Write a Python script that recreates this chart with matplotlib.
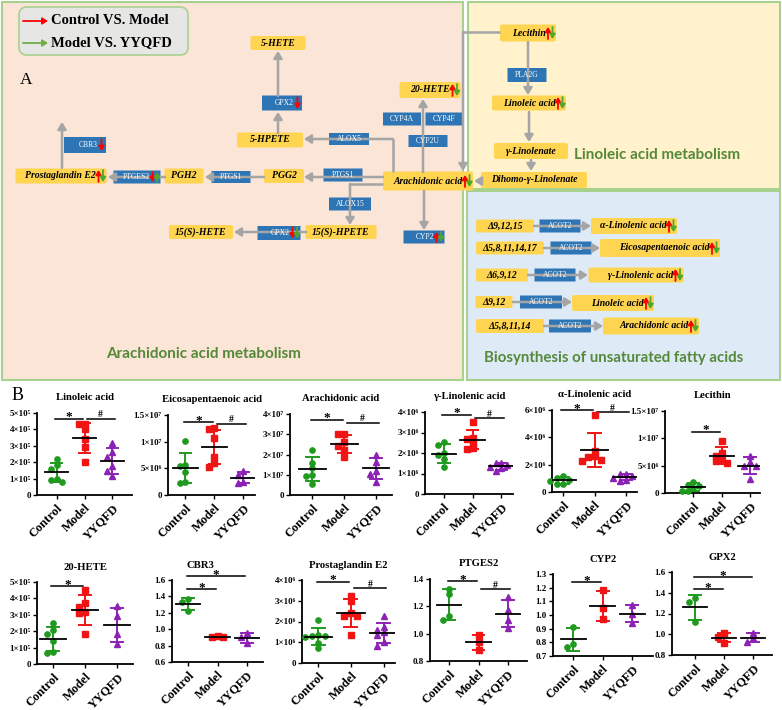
import numpy as np
import matplotlib
matplotlib.use('Agg')
import matplotlib.pyplot as plt
from matplotlib.patches import FancyBboxPatch, Rectangle

# ---------------- data ----------------
GROUPS = ['Control', 'Model', 'YYQFD']

linoleic_acid = {'Control': [0.78e5, 0.9e5, 0.95e5, 1.6e5, 1.85e5, 2.2e5],
                 'Model': [4.35e5, 4.3e5, 4.0e5, 3.4e5, 2.9e5, 2.0e5],
                 'YYQFD': [3.2e5, 2.6e5, 2.3e5, 1.75e5, 1.45e5, 1.15e5]}
eicosapentaenoic_acid = {'Control': [10.1e6, 5.7e6, 5.5e6, 4.3e6, 2.5e6, 2.3e6],
                         'Model': [12.6e6, 12.3e6, 10.6e6, 7.2e6, 6.0e6, 5.2e6],
                         'YYQFD': [4.5e6, 3.8e6, 2.5e6, 2.3e6]}
arachidonic_acid = {'Control': [2.2e7, 1.6e7, 1.35e7, 1.0e7, 0.95e7, 0.55e7],
                    'Model': [3.0e7, 3.0e7, 2.6e7, 2.4e7, 2.2e7, 1.9e7],
                    'YYQFD': [2.0e7, 1.65e7, 1.2e7, 1.05e7, 0.65e7]}
gamma_linolenic_acid = {'Control': [2.55e6, 2.4e6, 2.0e6, 1.9e6, 1.7e6, 1.3e6],
                        'Model': [3.5e6, 2.75e6, 2.7e6, 2.5e6, 2.25e6, 2.2e6],
                        'YYQFD': [1.5e6, 1.5e6, 1.4e6, 1.3e6, 1.25e6, 1.1e6]}
alpha_linolenic_acid = {'Control': [1.15e6, 1.05e6, 0.9e6, 0.8e6, 0.6e6, 0.55e6],
                        'Model': [5.6e6, 3.0e6, 2.6e6, 2.55e6, 2.35e6, 2.3e6],
                        'YYQFD': [1.3e6, 1.3e6, 1.2e6, 1.0e6, 0.9e6, 0.8e6]}
lecithin = {'Control': [2.1e6, 1.5e6, 1.2e6, 0.9e6, 0.4e6, 0.3e6],
            'Model': [9.6e6, 7.3e6, 6.8e6, 6.1e6, 5.8e6, 5.5e6],
            'YYQFD': [6.8e6, 5.6e6, 5.0e6, 4.9e6, 2.6e6]}
hete20 = {'Control': [2.5e5, 2.05e5, 1.8e5, 1.4e5, 0.75e5, 0.7e5],
          'Model': [4.5e5, 3.7e5, 3.45e5, 3.2e5, 3.1e5, 1.8e5],
          'YYQFD': [3.55e5, 2.9e5, 1.85e5, 1.2e5]}
cbr3 = {'Control': [1.37, 1.33, 1.22],
        'Model': [0.92, 0.91, 0.90],
        'YYQFD': [0.955, 0.90, 0.835]}
prostaglandin_e2 = {'Control': [2.05e6, 1.35e6, 1.3e6, 1.3e6, 1.25e6, 0.95e6, 0.7e6],
                    'Model': [3.25e6, 3.0e6, 2.4e6, 2.25e6, 2.25e6, 1.35e6],
                    'YYQFD': [2.25e6, 1.75e6, 1.6e6, 1.5e6, 1.35e6, 1.0e6, 0.8e6]}
ptges2 = {'Control': [1.33, 1.29, 1.13, 1.10],
          'Model': [0.99, 0.94, 0.88],
          'YYQFD': [1.27, 1.17, 1.10, 1.04]}
cyp2 = {'Control': [0.915, 0.785, 0.765],
        'Model': [1.185, 1.05, 0.97],
        'YYQFD': [1.07, 1.01, 0.945]}
gpx2 = {'Control': [1.35, 1.31, 1.12],
        'Model': [1.01, 0.97, 0.92],
        'YYQFD': [1.01, 0.96, 0.925]}

# y ticks for each panel
lin_ticks = [0, 1e5, 2e5, 3e5, 4e5, 5e5]
epa_ticks = [0, 5e6, 1e7, 1.5e7]
ara_ticks = [0, 1e7, 2e7, 3e7, 4e7]
gla_ticks = [0, 1e6, 2e6, 3e6, 4e6]
ala_ticks = [0, 2e6, 4e6, 6e6]
lec_ticks = [0, 5e6, 1e7, 1.5e7]
hete_ticks = [0, 1e5, 2e5, 3e5, 4e5, 5e5]
cbr3_ticks = [0.6, 0.8, 1.0, 1.2, 1.4, 1.6]
pge2_ticks = [0, 1e6, 2e6, 3e6, 4e6]
ptges2_ticks = [0.8, 1.0, 1.2, 1.4]
cyp2_ticks = [0.7, 0.8, 0.9, 1.0, 1.1, 1.2, 1.3]
gpx2_ticks = [0.8, 1.0, 1.2, 1.4, 1.6]

# significance marks: (group a, group b, y level, symbol)
lin_sig = [(0, 1, 4.65e5, '*'), (1, 2, 4.65e5, '#')]
epa_sig = [(0, 1, 1.36e7, '*'), (1, 2, 1.34e7, '#')]
ara_sig = [(0, 1, 3.72e7, '*'), (1, 2, 3.57e7, '#')]
gla_sig = [(0, 1, 3.87e6, '*'), (1, 2, 3.7e6, '#')]
ala_sig = [(0, 1, 6.0e6, '*'), (1, 2, 5.85e6, '#')]
lec_sig = [(0, 1, 1.12e7, '*')]
hete_sig = [(0, 1, 4.73e5, '*')]
cbr3_sig = [(0, 1, 1.49, '*'), (0, 2, 1.65, '*')]
pge2_sig = [(0, 1, 3.92e6, '*'), (1, 2, 3.6e6, '#')]
ptges2_sig = [(0, 1, 1.385, '*'), (1, 2, 1.324, '#')]
cyp2_sig = [(0, 1, 1.24, '*')]
gpx2_sig = [(0, 1, 1.432, '*'), (0, 2, 1.55, '*')]

# ---------------- style ----------------
W, H = 782, 710
plt.rcParams['font.family'] = ['Liberation Serif', 'DejaVu Serif']
COLORS = ['#1f9a1f', '#f01414', '#8c22b5']
MARKERS = ['o', 's', '^']
GRAY = '#A5A5A5'
YELLOW = '#FFD450'
BLUE = '#2E75B6'
GREEN_TXT = '#55893A'

fig = plt.figure(figsize=(W / 100, H / 100), dpi=100)

# ---------------- pathway diagram (pixel coordinates) ----------------
ax = fig.add_axes([0, 0, 1, 1])
ax.set_xlim(0, W)
ax.set_ylim(H, 0)
ax.axis('off')

ax.add_patch(Rectangle((2, 2), 461, 378, fc='#FBE5D6', ec='#A9D18E', lw=1.5))
ax.add_patch(Rectangle((468, 2), 312, 187, fc='#FFF2CC', ec='#A9D18E', lw=1.5))
ax.add_patch(Rectangle((467, 191), 313, 189, fc='#DEEBF7', ec='#A9D18E', lw=1.5))

# legend box
ax.add_patch(FancyBboxPatch((19, 7), 169, 48, boxstyle='round,pad=0,rounding_size=8',
                            fc='#E6E6E4', ec='#A9D18E', lw=1.2))


def arrow(p0, p1, color=GRAY, lw=1.8, ms=9):
    ax.annotate('', xy=p1, xytext=p0,
                arrowprops=dict(arrowstyle='-|>,head_length=0.45,head_width=0.28',
                                color=color, lw=lw, shrinkA=0, shrinkB=0,
                                mutation_scale=ms))


def path(pts):
    xs, ys = zip(*pts)
    if len(pts) > 2:
        ax.plot(xs[:-1], ys[:-1], color=GRAY, lw=1.8, solid_capstyle='butt',
                solid_joinstyle='miter')
    arrow(pts[-2], pts[-1])


arrow((23, 21), (48, 21), color='#FF0000', lw=1.3, ms=7)
arrow((23, 43), (48, 43), color='#70AD47', lw=1.3, ms=7)
ax.text(51, 21, 'Control VS. Model', fontsize=10.5, fontweight='bold', va='center')
ax.text(51, 43, 'Model VS. YYQFD', fontsize=10.5, fontweight='bold', va='center')
ax.text(20, 80, 'A', fontsize=12.5, va='center')

# connections
path([(393, 172), (393, 139), (304, 139)])
path([(278, 133), (278, 112)])
path([(278, 96), (278, 51)])
path([(383, 177), (304, 177)])
path([(264, 177), (205, 177)])
path([(165, 177), (108, 177)])
path([(62, 168), (62, 122)])
path([(383, 184), (350, 184), (350, 225)])
path([(306, 232), (234, 232)])
path([(424, 191), (424, 230)])
path([(423, 172), (423, 99)])
path([(500, 32), (463, 32), (463, 171)])
path([(528, 42), (528, 95)])
path([(529, 112), (529, 142)])
path([(531, 160), (531, 171)])
path([(481, 181), (474, 181)])
for y, x0, x1 in [(226, 534, 591), (248, 544, 600), (275, 528, 588), (302, 513, 572), (326, 544, 603)]:
    path([(x0, y), (x1, y)])

yellow_nodes = [
    ('5-HETE', 278, 43, 55, 14, ''),
    ('5-HPETE', 270, 140, 66, 15, ''),
    ('Prostaglandin E2', 61, 176, 91, 15, 'ud'),
    ('PGH2', 184, 176, 39, 15, ''),
    ('PGG2', 284, 176, 40, 14, ''),
    ('Arachidonic acid', 428, 181, 90, 19, 'ud'),
    ('20-HETE', 430, 90, 61, 16, 'ud'),
    ('15(S)-HPETE', 341, 232, 71, 14, ''),
    ('15(S)-HETE', 201, 232, 64, 14, ''),
    ('Lecithin', 528, 33, 56, 17, 'ud'),
    ('Linoleic acid', 529, 103, 74, 15, 'ud'),
    ('γ-Linolenate', 531, 151, 74, 16, ''),
    ('Dihomo-γ-Linolenate', 534, 180, 106, 16, ''),
    ('Δ9,12,15', 505, 226, 58, 13, ''),
    ('α-Linolenic acid', 634, 226, 86, 16, 'ud'),
    ('Δ5,8,11,14,17', 510, 248, 68, 13, ''),
    ('Eicosapentaenoic acid', 660, 248, 120, 18, 'ud'),
    ('Δ6,9,12', 502, 275, 52, 13, ''),
    ('γ-Linolenic acid', 636, 275, 95, 15, 'ud'),
    ('Δ9,12', 494, 302, 37, 12, ''),
    ('Linoleic acid', 613, 303, 82, 16, 'ud'),
    ('Δ5,8,11,14', 510, 326, 68, 14, ''),
    ('Arachidonic acid', 651, 326, 96, 17, 'ud'),
]
blue_nodes = [
    ('GPX2', 282, 103, 40, 15, 'd'),
    ('ALOX5', 349, 139, 40, 12, ''),
    ('CBR3', 85, 145, 42, 16, 'd'),
    ('PTGES2', 137, 177, 47, 13, 'du'),
    ('PTGS1', 231, 177, 39, 12, ''),
    ('PTGS1', 343, 175, 39, 13, ''),
    ('CYP4A', 402, 119, 38, 13, ''),
    ('CYP4F', 444, 119, 37, 13, ''),
    ('CYP2U', 428, 141, 39, 12, ''),
    ('ALOX15', 350, 204, 42, 13, ''),
    ('GPX2', 279, 233, 43, 14, 'dd'),
    ('CYP2', 424, 237, 41, 13, 'ud'),
    ('PLA2G', 527, 75, 39, 14, ''),
    ('ACOT2', 560, 226, 41, 13, ''),
    ('ACOT2', 571, 248, 41, 13, ''),
    ('ACOT2', 555, 275, 41, 13, ''),
    ('ACOT2', 541, 302, 42, 13, ''),
    ('ACOT2', 570, 326, 42, 13, ''),
]


def indicator(x, yc, d, color, half):
    if d == 'u':
        arrow((x, yc + half), (x, yc - half), color=color, lw=1.3, ms=6)
    else:
        arrow((x, yc - half), (x, yc + half), color=color, lw=1.3, ms=6)


def node(label, cx, cy, w, h, ind, fc, tc, style, fs, rs):
    ax.add_patch(FancyBboxPatch((cx - w / 2, cy - h / 2), w, h,
                                boxstyle=f'round,pad=0,rounding_size={rs}',
                                fc=fc, ec='none'))
    right = cx + w / 2
    half = min(6, h / 2 - 1.5)
    if len(ind) == 2:
        ax.text(right - 10.5, cy, label, ha='right', va='center', color=tc,
                fontsize=fs, fontweight=style[0], fontstyle=style[1])
        indicator(right - 8, cy, ind[0], '#FF0000', half)
        indicator(right - 3.5, cy, ind[1], '#4EA72E', half)
    elif len(ind) == 1:
        ax.text(right - 8, cy, label, ha='right', va='center', color=tc,
                fontsize=fs, fontweight=style[0], fontstyle=style[1])
        indicator(right - 4.5, cy, ind[0], '#FF0000', half)
    else:
        ax.text(cx, cy, label, ha='center', va='center', color=tc,
                fontsize=fs, fontweight=style[0], fontstyle=style[1])


for n in yellow_nodes:
    node(*n, fc=YELLOW, tc='black', style=('bold', 'italic'), fs=7, rs=2)
for n in blue_nodes:
    node(*n, fc=BLUE, tc='white', style=('normal', 'normal'), fs=5.5, rs=0)

ax.text(574, 155, 'Linoleic acid metabolism', color=GREEN_TXT, fontsize=11,
        fontweight='bold', family='Lato', va='center', ha='left')
ax.text(204, 354, 'Arachidonic acid metabolism', color=GREEN_TXT, fontsize=11,
        fontweight='bold', family='Lato', va='center', ha='center')
ax.text(614, 358, 'Biosynthesis of unsaturated fatty acids', color=GREEN_TXT,
        fontsize=10.8, fontweight='bold', family='Lato', va='center', ha='center')

fig.text(12 / W, 1 - 396 / H, 'B', fontsize=13, va='center')

# ---------------- scatter panels ----------------
SUP = str.maketrans('0123456789-', '⁰¹²³⁴⁵⁶⁷⁸⁹⁻')


def sci(v):
    if v == 0:
        return '0'
    e = int(np.floor(np.log10(abs(v)) + 1e-9))
    m = round(v / 10 ** e, 2)
    return f'{m:g}×10' + str(e).translate(SUP)


panels = [
    ('Linoleic acid', linoleic_acid, lin_ticks, lin_sig, 'sci'),
    ('Eicosapentaenoic acid', eicosapentaenoic_acid, epa_ticks, epa_sig, 'sci'),
    ('Arachidonic acid', arachidonic_acid, ara_ticks, ara_sig, 'sci'),
    ('γ-Linolenic acid', gamma_linolenic_acid, gla_ticks, gla_sig, 'sci'),
    ('α-Linolenic acid', alpha_linolenic_acid, ala_ticks, ala_sig, 'sci'),
    ('Lecithin', lecithin, lec_ticks, lec_sig, 'sci'),
    ('20-HETE', hete20, hete_ticks, hete_sig, 'sci'),
    ('CBR3', cbr3, cbr3_ticks, cbr3_sig, 'dec'),
    ('Prostaglandin E2', prostaglandin_e2, pge2_ticks, pge2_sig, 'sci'),
    ('PTGES2', ptges2, ptges2_ticks, ptges2_sig, 'dec'),
    ('CYP2', cyp2, cyp2_ticks, cyp2_sig, 'dec'),
    ('GPX2', gpx2, gpx2_ticks, gpx2_sig, 'dec'),
]
# pixel boxes (left, right, top, bottom), x-limits, title shift (px)
boxes = [
    (37, 132, 413, 495, -0.7, 2.7, 0),
    (168, 255, 415, 495, -0.6, 2.4, 0),
    (290, 392, 414, 495, -0.7, 2.5, 0),
    (425, 513, 412, 494, -0.65, 2.4, 0),
    (552, 637, 410, 492, -0.35, 2.35, 0),
    (665, 760, 411, 493, -1.0, 2.35, 0),
    (37, 133, 582, 664, -0.5, 2.5, 0),
    (172, 263, 580, 662, -0.55, 2.55, -17),
    (302, 395, 580, 663, -0.5, 2.35, 0),
    (430, 527, 579, 661, -0.65, 2.65, 0),
    (553, 653, 574, 656, -0.68, 2.7, 0),
    (672, 772, 572, 655, -0.8, 2.65, 0),
]


def spread(vals, span):
    vals = np.asarray(vals, float)
    offs = np.zeros(len(vals))
    placed = []
    for i in np.argsort(-vals):
        for c in [0, -0.2, 0.2, -0.4, 0.4]:
            if all(abs(vals[i] - v) > 0.06 * span or abs(c - o) > 0.15 for v, o in placed):
                offs[i] = c
                break
        placed.append((vals[i], offs[i]))
    return offs


for (title, data, ticks, sig, kind), (l, r, t, b, x0, x1, tdx) in zip(panels, boxes):
    a = fig.add_axes([l / W, 1 - b / H, (r - l) / W, (b - t) / H])
    span = ticks[-1] - ticks[0]
    for gi, g in enumerate(GROUPS):
        vals = np.asarray(data[g], float)
        xs = gi + spread(vals, span)
        a.plot(xs, vals, ls='none', marker=MARKERS[gi], ms=3.8, color=COLORS[gi],
               mec=COLORS[gi], zorder=3, clip_on=False)
        m, s = vals.mean(), vals.std(ddof=1)
        a.plot([gi, gi], [m - s, m + s], color=COLORS[gi], lw=1.4, zorder=2)
        for yy in (m - s, m + s):
            a.plot([gi - 0.2, gi + 0.2], [yy, yy], color=COLORS[gi], lw=1.4, zorder=2)
        a.plot([gi - 0.42, gi + 0.42], [m, m], color='black', lw=1.3, zorder=4)
    for (i, j, y, sym) in sig:
        xa = i - 0.05 if sym == '*' else i + 0.08
        xb = j - 0.05 if sym == '*' else j + 0.08
        a.plot([xa, xb], [y, y], color='black', lw=1.1, clip_on=False)
        if sym == '*':
            a.annotate(sym, xy=((xa + xb) / 2, y), xytext=(0, -1.2),
                       textcoords='offset points', ha='center', va='baseline',
                       fontsize=9.5, fontweight='bold', annotation_clip=False)
        else:
            a.annotate(sym, xy=((xa + xb) / 2, y), xytext=(0, 1),
                       textcoords='offset points', ha='center', va='baseline',
                       fontsize=7, fontweight='bold', annotation_clip=False)
    a.set_xlim(x0, x1)
    a.set_ylim(ticks[0], ticks[-1])
    a.set_yticks(ticks)
    if kind == 'sci':
        a.set_yticklabels([sci(v) for v in ticks])
    else:
        a.set_yticklabels([f'{v:.1f}' for v in ticks])
    a.set_xticks(range(3))
    a.set_xticklabels(GROUPS, rotation=45, ha='right', rotation_mode='anchor',
                      fontsize=9, fontweight='bold')
    for lab in a.get_yticklabels():
        lab.set_fontweight('bold')
        lab.set_fontsize(6.5)
    a.tick_params(direction='out', length=3, width=1, pad=1.5)
    a.tick_params(axis='x', pad=2)
    for sp in ('top', 'right'):
        a.spines[sp].set_visible(False)
    for sp in ('left', 'bottom'):
        a.spines[sp].set_linewidth(1.3)
    a.patch.set_alpha(0)
    ttl = a.set_title(title, fontsize=7.7, fontweight='bold', pad=9)
    if tdx:
        ttl.set_x(0.5 + tdx / (r - l))

fig.savefig('out.png', dpi=100)
